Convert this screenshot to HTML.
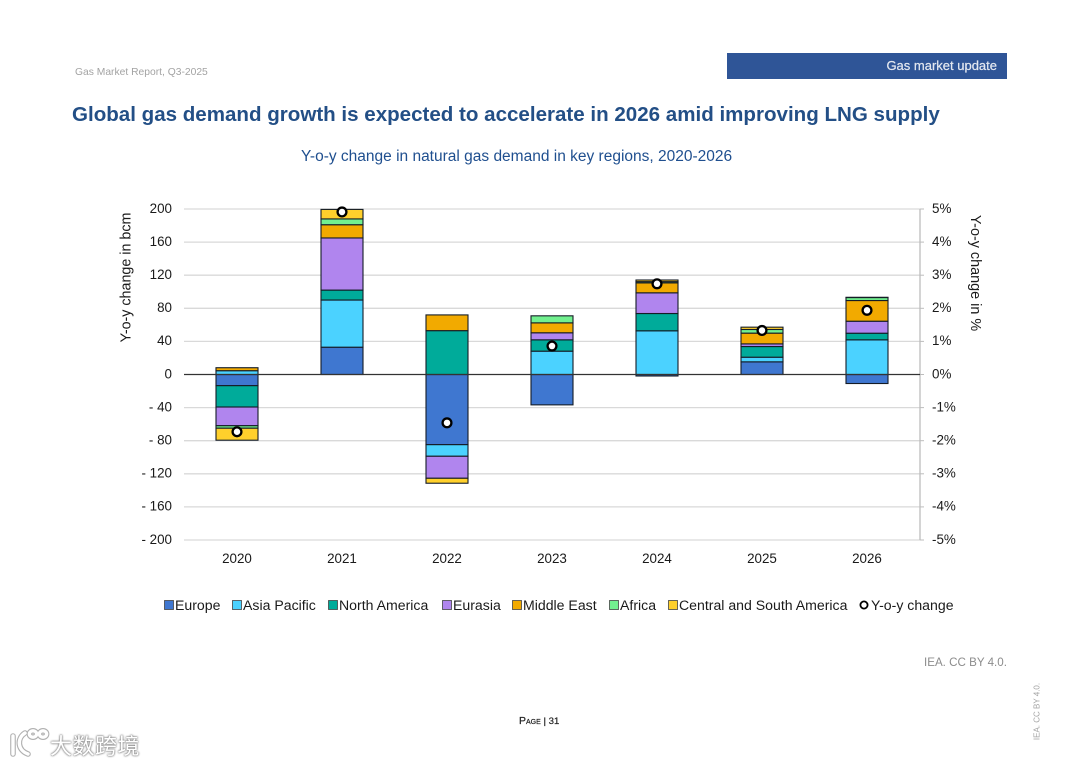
<!DOCTYPE html>
<html lang="en">
<head>
<meta charset="utf-8">
<title>Gas Market Report chart</title>
<style>
html,body{margin:0;padding:0;background:#fff;}
#page{position:relative;width:1080px;height:764px;overflow:hidden;background:#fff;font-family:"Liberation Sans",Arial,sans-serif;}
#page div{position:absolute;white-space:nowrap;}
#chart{position:absolute;left:0;top:0;filter:blur(0.3px);}
#chart text{font-family:"Liberation Sans",Arial,sans-serif;}
</style>
</head>
<body>
<div id="page">
  <div style="left:75px;top:67px;font-size:10.3px;color:#a3a3a3;">Gas Market Report, Q3-2025</div>
  <div style="left:727px;top:53px;width:280px;height:26px;background:#2f5597;"></div>
  <div style="right:83px;top:58px;font-size:13px;line-height:16px;color:#e4e8f0;-webkit-text-stroke:0.2px #e4e8f0;">Gas market update</div>
  <div style="left:72px;top:103px;font-size:20.55px;font-weight:bold;color:#234f86;">Global gas demand growth is expected to accelerate in 2026 amid improving LNG supply</div>
  <div style="left:301px;top:148px;font-size:15.5px;color:#1f4f8f;">Y-o-y change in natural gas demand in key regions, 2020-2026</div>

  <svg id="chart" width="1080" height="764" xmlns="http://www.w3.org/2000/svg"></svg>

  <div style="left:924px;top:656px;font-size:11.6px;color:#8c8c8c;">IEA. CC BY 4.0.</div>
  <div style="left:1007px;top:707px;width:60px;text-align:center;font-size:8px;color:#a3a3a3;transform:rotate(-90deg);">IEA. CC BY 4.0.</div>
  <div style="left:519px;top:715px;font-size:9.6px;color:#222;-webkit-text-stroke:0.2px #222;"><span style="font-variant:small-caps;font-size:10.5px;">Page</span> | 31</div>

  <svg width="50" height="36" style="position:absolute;left:6px;top:724px;" xmlns="http://www.w3.org/2000/svg">
    <g fill="none" stroke="#b0b0b0" stroke-width="5.6" stroke-linecap="round">
      <path d="M7 12 V30 M19 9 C11 14 11 26 22 30"/><ellipse cx="27" cy="10" rx="3.6" ry="3.2"/><ellipse cx="37" cy="10" rx="3.6" ry="3.2"/>
    </g>
    <g fill="none" stroke="#ffffff" stroke-width="3.4" stroke-linecap="round">
      <path d="M7 12 V30 M19 9 C11 14 11 26 22 30"/><ellipse cx="27" cy="10" rx="3.6" ry="3.2"/><ellipse cx="37" cy="10" rx="3.6" ry="3.2"/>
    </g>
  </svg>
  <div style="left:50px;top:729px;font-size:22px;letter-spacing:0.5px;color:#fff;font-family:'Liberation Sans','Noto Sans CJK SC',sans-serif;text-shadow:0 0 2px #8a8a8a,0 0 2px #8a8a8a,0 0 1px #8a8a8a;">大数跨境</div>
</div>

<script>
const categories = ["2020", "2021", "2022", "2023", "2024", "2025", "2026"];
const europe = [-13.5, 33, -84.8, -36.7, -1.8, 15.3, -10.9];
const asiaPacific = [4.6, 57, -14, 28.2, 52.8, 5.6, 41.9];
const northAmerica = [-25.8, 12, 53, 13.7, 20.9, 12.9, 8];
const eurasia = [-22.6, 63, -26.6, 8.5, 25, 3.2, 14.5];
const middleEast = [3.6, 16, 19, 12, 12, 13, 25];
const africa = [-3, 7, 0, 8.5, 1.5, 4.4, 3.6];
const centralSouthAmerica = [-14.5, 11.5, -6, 0, 2, 2.8, 0.3];
const yoyChange = [-1.73, 4.91, -1.46, 0.86, 2.74, 1.33, 1.94];
const leftTicks = [200, 160, 120, 80, 40, 0, -40, -80, -120, -160, -200];
const rightTicks = [5, 4, 3, 2, 1, 0, -1, -2, -3, -4, -5];
const seriesNames = ["Europe", "Asia Pacific", "North America", "Eurasia", "Middle East", "Africa", "Central and South America"];
const seriesSlugs = ["europe", "asia-pacific", "north-america", "eurasia", "middle-east", "africa", "central-south-america"];
const seriesColors = ["#3f77d0", "#4bd2ff", "#00ab9a", "#b085ee", "#f2aa00", "#72f08f", "#ffd02c"];
const seriesValues = [europe, asiaPacific, northAmerica, eurasia, middleEast, africa, centralSouthAmerica];

const NS = "http://www.w3.org/2000/svg";
const svg = document.getElementById("chart");
const plot = {left: 184, right: 920, top: 209, bottom: 540};
const yLeft = v => plot.top + (200 - v) / 400 * (plot.bottom - plot.top);
const yRight = v => plot.top + (5 - v) / 10 * (plot.bottom - plot.top);
const xCenter = i => 237 + i * 105;
const barWidth = 42;

function make(tag, attrs, text) {
  const el = document.createElementNS(NS, tag);
  for (const k in attrs) el.setAttribute(k, attrs[k]);
  if (text !== undefined) el.textContent = text;
  svg.appendChild(el);
  return el;
}

// gridlines and left-axis labels
leftTicks.forEach(t => {
  if (t !== 0) {
    const grid = make("line", {x1: plot.left, x2: plot.right, y1: yLeft(t), y2: yLeft(t), stroke: "#d9d9d9", "stroke-width": 1.3});
    
    
  }
  const label = t < 0 ? "- " + Math.abs(t) : String(t);
  const txt = make("text", {x: 172, y: yLeft(t) + 3.8, "text-anchor": "end", "font-size": 13.4, fill: "#1a1a1a"}, label);
  
  
});

// right axis
const rightAxis = make("line", {x1: plot.right, x2: plot.right, y1: plot.top, y2: plot.bottom, stroke: "#bdbdbd", "stroke-width": 1.3});


rightTicks.forEach(t => {
  const tick = make("line", {x1: plot.right, x2: plot.right + 4, y1: yRight(t), y2: yRight(t), stroke: "#bdbdbd", "stroke-width": 1});
  
  
  const txt = make("text", {x: 932, y: yRight(t) + 3.8, "font-size": 13.4, fill: "#1a1a1a"}, t + "%");
  
  
});

// stacked bars
categories.forEach((cat, i) => {
  let pos = 0, neg = 0;
  seriesValues.forEach((vals, s) => {
    const v = vals[i];
    if (!v) return;
    const start = v > 0 ? pos : neg;
    const end = start + v;
    if (v > 0) pos = end; else neg = end;
    const y1 = yLeft(Math.max(start, end));
    const y2 = yLeft(Math.min(start, end));
    const bar = make("rect", {x: xCenter(i) - barWidth / 2, y: y1, width: barWidth, height: y2 - y1, fill: seriesColors[s], stroke: "#141c26", "stroke-width": 1.1});
    
    
  });
  const lab = make("text", {x: xCenter(i), y: 563, "text-anchor": "middle", "font-size": 13.4, fill: "#1a1a1a"}, cat);
  
  
});

// zero line
const zero = make("line", {x1: plot.left, x2: plot.right, y1: yLeft(0), y2: yLeft(0), stroke: "#333", "stroke-width": 1.2});



// yoy markers
yoyChange.forEach((v, i) => {
  const pt = make("circle", {cx: xCenter(i), cy: yRight(v), r: 4.4, fill: "#fff", stroke: "#000", "stroke-width": 2.3});
  
  
});

// axis titles
const lt = make("text", {transform: "translate(130.5 277.5) rotate(-90)", "text-anchor": "middle", "font-size": 14.3, fill: "#1a1a1a"}, "Y-o-y change in bcm");


const rt = make("text", {transform: "translate(971 273) rotate(90)", "text-anchor": "middle", "font-size": 14.4, fill: "#1a1a1a"}, "Y-o-y change in %");



// legend
const legendX = [164, 232, 328, 442, 512, 609, 668];
seriesNames.forEach((name, s) => {
  const sw = make("rect", {x: legendX[s] + 0.5, y: 600.5, width: 9, height: 9, fill: seriesColors[s], stroke: "#444", "stroke-width": 0.8});
  
  
  const tx = make("text", {x: legendX[s] + 11, y: 610, "font-size": 14.1, fill: "#1a1a1a"}, name);
  
  
});
const legPt = make("circle", {cx: 864, cy: 605, r: 3.6, fill: "#fff", stroke: "#000", "stroke-width": 1.8});


const legTx = make("text", {x: 871, y: 610, "font-size": 14.1, fill: "#1a1a1a"}, "Y-o-y change");


</script>
</body>
</html>
